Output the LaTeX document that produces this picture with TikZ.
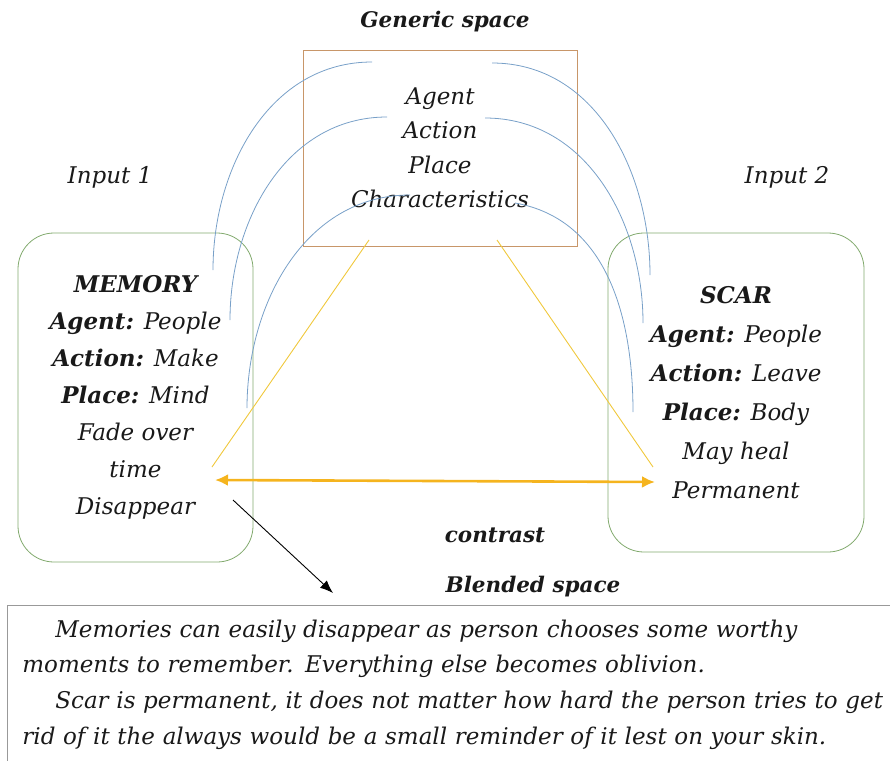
\documentclass[tikz,border=0pt]{standalone}
\usepackage{fontspec}
\setmainfont{DejaVu Serif}
\usetikzlibrary{arrows.meta}

\definecolor{arcblue}{RGB}{120,160,200}
\definecolor{boxtan}{RGB}{200,150,105}
\definecolor{boxgreen}{RGB}{130,170,110}
\definecolor{linkyellow}{RGB}{240,200,60}
\definecolor{contrastyellow}{RGB}{245,180,30}

\begin{document}
\begin{tikzpicture}[x=1pt, y=-1pt,
    every node/.style={font=\fontsize{23}{37}\selectfont\itshape, text=black!90},
    heading/.style={font=\fontsize{21.5}{30}\selectfont\bfseries\itshape},
    inputbox/.style={draw=boxgreen, line width=0.8pt, rounded corners=36pt, align=center},
    arc/.style={draw=arcblue, line width=0.8pt},
    link/.style={draw=linkyellow, line width=0.9pt}]
    \useasboundingbox (0, 0) rectangle (890, 760);

    \node [heading] (generictitle) at (445, 22) {Generic space};
    \node [draw=boxtan, line width=0.8pt, minimum width=274pt, minimum height=196pt, align=center,
           font=\fontsize{23}{34.5}\selectfont\itshape] (generic) at (440, 148)
          {Agent\\Action\\Place\\Characteristics};

    \node (input1) at (110, 177) {Input 1};
    \node (input2) at (787, 177) {Input 2};

    \node [inputbox, minimum width=235pt, minimum height=329pt] (memory) at (135.5, 397.5)
          {\textbf{MEMORY}\\\textbf{Agent:} People\\\textbf{Action:} Make\\\textbf{Place:} Mind\\Fade over\\time\\Disappear};
    \node [inputbox, minimum width=256pt, minimum height=319pt,
           font=\fontsize{23}{39}\selectfont\itshape] (scar) at (736, 392.5)
          {\textbf{SCAR}\\\textbf{Agent:} People\\\textbf{Action:} Leave\\\textbf{Place:} Body\\May heal\\Permanent};

    \node [heading] (contrast) at (495, 535) {contrast};
    \node [heading] (blendtitle) at (533, 587) {Blended space};

    \node [draw=black!40, line width=0.8pt, anchor=north west, minimum width=900pt, minimum height=158pt,
           inner xsep=15pt, text width=870pt, align=left,
           font=\fontsize{23}{35.7}\selectfont\itshape] (blend) at (7, 605)
          {\hspace*{33pt}Memories can easily disappear as person chooses some worthy\\
           moments to remember. Everything else becomes oblivion.\\
           \hspace*{33pt}Scar is permanent, it does not matter how hard the person tries to get\\
           rid of it the always would be a small reminder of it lest on your skin.};

    \coordinate (memagent) at (213, 270);
    \coordinate (memaction) at (230, 320);
    \coordinate (memplace) at (247, 408);
    \coordinate (genagentl) at (372, 62);
    \coordinate (genactionl) at (387, 117);
    \coordinate (genplacel) at (410, 195);
    \coordinate (genagentr) at (492, 63);
    \coordinate (genactionr) at (485, 118);
    \coordinate (genplacer) at (515, 203);
    \coordinate (scaragent) at (650, 275);
    \coordinate (scaraction) at (643, 323);
    \coordinate (scarplace) at (633, 412);

    \draw [arc] (memagent) to [out=90, in=180] (genagentl);
    \draw [arc] (memaction) to [out=90, in=180] (genactionl);
    \draw [arc] (memplace) to [out=90, in=180] (genplacel);
    \draw [arc] (genagentr) to [out=0, in=90] (scaragent);
    \draw [arc] (genactionr) to [out=0, in=90] (scaraction);
    \draw [arc] (genplacer) to [out=-10, in=90] (scarplace);

    \coordinate (genlinkl) at (369, 240);
    \coordinate (genlinkr) at (497, 240);
    \coordinate (memlink) at (212, 467);
    \coordinate (scarlink) at (653, 467);
    \draw [link] (genlinkl) -- (memlink);
    \draw [link] (genlinkr) -- (scarlink);

    \coordinate (memend) at (215, 480);
    \coordinate (scarend) at (655, 482);
    \draw [draw=contrastyellow, line width=2.6pt, {Latex[length=13pt, width=12pt]}-{Latex[length=13pt, width=12pt]}]
          (memend) -- (scarend);

    \coordinate (memout) at (233, 500);
    \draw [black, line width=0.9pt, -{Latex[length=13pt, width=10pt]}] (memout) -- (333, 593);

\end{tikzpicture}
\end{document}
